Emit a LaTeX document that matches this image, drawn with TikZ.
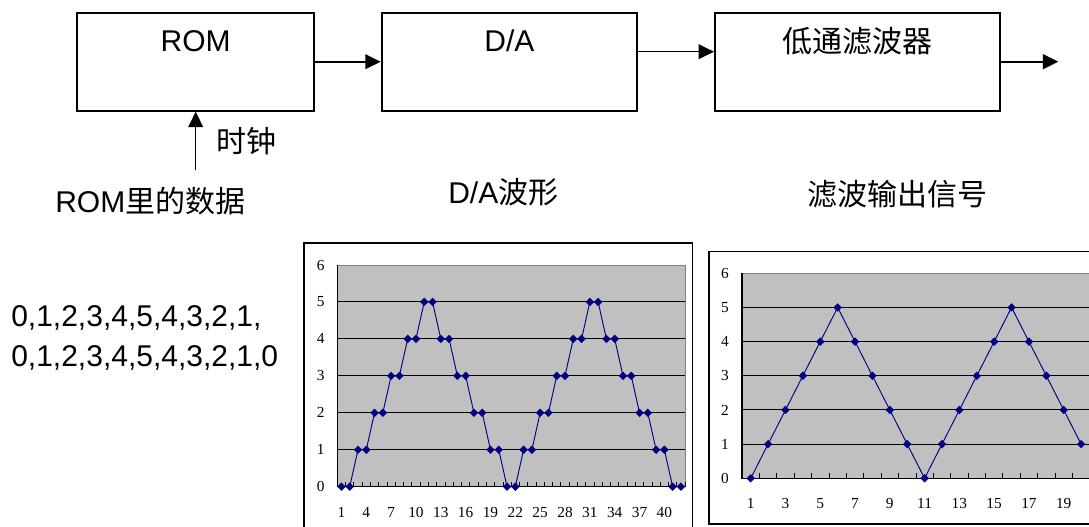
\documentclass[tikz,border=0pt]{standalone}
\usepackage{fontspec}
\setmainfont{Liberation Sans}
\newfontfamily\cjk{Noto Sans CJK SC}
\newfontfamily\numfont{Liberation Serif}
\usetikzlibrary{arrows.meta,shapes.geometric}
\definecolor{navy}{HTML}{000080}
\definecolor{plotgray}{HTML}{C0C0C0}
\definecolor{borderg}{HTML}{808080}
\begin{document}
\begin{tikzpicture}[x=0.75pt,y=-0.75pt,
  blockbox/.style={draw,line width=1.5pt,inner sep=0pt},
  bigtext/.style={font=\fontsize{22.5}{27}\selectfont,inner sep=0pt},
  arr/.style={line width=1.5pt,-{Triangle[length=11.5pt,width=11pt]}},
  arrthin/.style={line width=1pt,-{Triangle[length=11.5pt,width=11pt]}},
  frameline/.style={draw=black,line width=0.8pt},
  gridline/.style={black,line width=0.8pt},
  axisline/.style={black,line width=0.8pt},
  tickline/.style={black,line width=0.6pt},
  dataline/.style={navy,line width=0.7pt},
  dmark/.style={diamond,fill=navy,inner sep=0pt,minimum width=6.5pt,minimum height=6.5pt},
  numlab/.style={font=\numfont\fontsize{11.5}{13}\selectfont,inner sep=0pt}
]
\useasboundingbox (0,0) rectangle (1089,527);

% ---- block diagram ----
\node[blockbox,minimum width=177.5pt,minimum height=73.5pt] (rom) at (195.7,61.7) {};
\node[blockbox,minimum width=191.25pt,minimum height=73.5pt] (da) at (509.2,61.7) {};
\node[blockbox,minimum width=213.75pt,minimum height=73.5pt] (lpf) at (857.5,61.7) {};

\node[bigtext,anchor=base] (romlab) at (195.7,51.7) {ROM};
\node[bigtext,anchor=base] (dalab) at (509.5,51.7) {D/A};
\node[bigtext,anchor=center] (lpflab) at (857,41) {\cjk 低通滤波器};

\draw[arr] (rom.east) -- (da.west);
\draw[arrthin] ([yshift=7.5pt]da.east) -- ([yshift=7.5pt]lpf.west);
\coordinate (out) at (1058.3,61.7);
\draw[arr] (lpf.east) -- (out);
\coordinate (clk) at (195.7,170);
\draw[arrthin] (clk) -- (rom.south);
\node[bigtext,anchor=center] (clklab) at (246,141) {\cjk 时钟};

\node[bigtext,anchor=base west] (romdata) at (55,212.3) {ROM{\cjk 里的数据}};
\node[bigtext,anchor=base west] (dawave) at (448,203.3) {D/A{\cjk 波形}};
\node[bigtext,anchor=center] (filtout) at (897,194) {\cjk 滤波输出信号};

\node[bigtext,anchor=base west] (seq1) at (11,326.7) {0,1,2,3,4,5,4,3,2,1,};
\node[bigtext,anchor=base west] (seq2) at (11,366) {0,1,2,3,4,5,4,3,2,1,0};

% ---- chart 1: D/A waveform ----
\draw[frameline] (304,243) rectangle (692.7,540);
\fill[plotgray] (337.3,265) rectangle (685,486.7);
\draw[borderg,line width=0.6pt] (337.3,265) -- (685,265) -- (685,486.7);
\foreach \v in {1,...,5}
  \draw[gridline] (337.3,486.7-\v*36.95) -- (685,486.7-\v*36.95);
\draw[axisline] (337.3,265) -- (337.3,486.7) -- (685,486.7);
\foreach \k in {0,...,42}
  \draw[tickline] (337.3+\k*8.28,486.7) -- (337.3+\k*8.28,481.5);
\foreach \v in {0,...,6}
  \node[numlab] (ya\v) at (320.7,486.7-\v*36.95) {\v};
\foreach \i in {1,4,...,40}
  \node[numlab] (xa\i) at (337.3+\i*8.28-4.14,512.7) {\i};
\foreach \v [count=\i] in {0,0,1,1,2,2,3,3,4,4,5,5,4,4,3,3,2,2,1,1,0,0,1,1,2,2,3,3,4,4,5,5,4,4,3,3,2,2,1,1,0,0}
  \coordinate (a\i) at (337.3+\i*8.28-4.14,486.7-\v*36.95);
\draw[dataline] (a1) \foreach \i in {2,...,42}{ -- (a\i)};
\foreach \i in {1,...,42}
  \node[dmark] (ma\i) at (a\i) {};

% ---- chart 2: filtered output ----
\draw[frameline] (709,251.7) rectangle (1100,524);
\fill[plotgray] (742,273.3) rectangle (1095,478.3);
\draw[borderg,line width=0.6pt] (742,273.3) -- (1095,273.3);
\foreach \v in {1,...,5}
  \draw[gridline] (742,478.3-\v*34.17) -- (1095,478.3-\v*34.17);
\draw[axisline] (742,273.3) -- (742,478.3) -- (1095,478.3);
\foreach \k in {0,...,20}
  \draw[tickline] (742+\k*17.39,478.3) -- (742+\k*17.39,473.1);
\foreach \v in {0,...,6}
  \node[numlab] (yb\v) at (725,478.3-\v*34.17) {\v};
\foreach \i in {1,3,...,19}
  \node[numlab] (xb\i) at (742+\i*17.39-8.695,503.3) {\i};
\foreach \v [count=\i] in {0,1,2,3,4,5,4,3,2,1,0,1,2,3,4,5,4,3,2,1}
  \coordinate (b\i) at (742+\i*17.39-8.695,478.3-\v*34.17);
\draw[dataline] (b1) \foreach \i in {2,...,20}{ -- (b\i)};
\foreach \i in {1,...,20}
  \node[dmark] (mb\i) at (b\i) {};
\end{tikzpicture}
\end{document}
